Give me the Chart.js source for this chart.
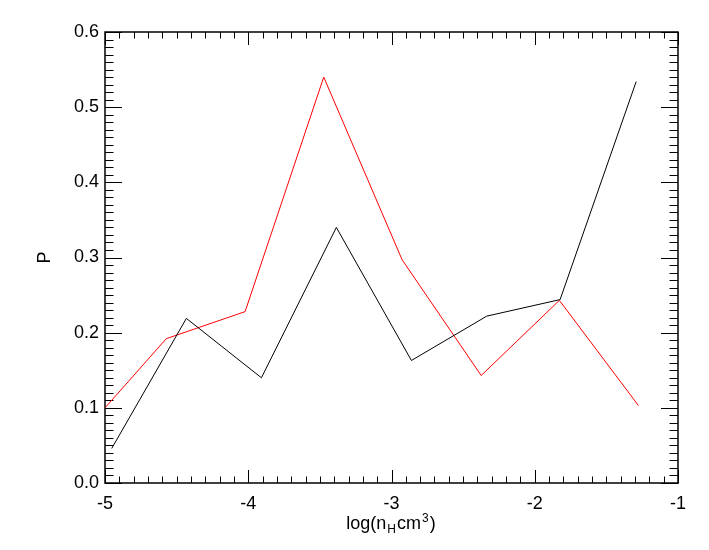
<!DOCTYPE html>
<html>
<head>
<meta charset="utf-8">
<script src="https://cdn.jsdelivr.net/npm/chart.js@4/dist/chart.umd.min.js"></script>
<style>
html, body { margin: 0; padding: 0; background: #fff; }
#wrap { width: 709px; height: 550px; }
</style>
</head>
<body>
<div id="wrap"><canvas id="chart"></canvas></div>
<script>
// values
const blackX = [-4.953, -4.432, -3.908, -3.385, -2.861, -2.335, -1.823, -1.292];
const blackP = [0.046, 0.219, 0.140, 0.340, 0.163, 0.222, 0.244, 0.534];
const redX = [-5.0, -4.572, -4.022, -3.473, -2.926, -2.374, -1.828, -1.276];
const redP = [0.100, 0.192, 0.228, 0.540, 0.297, 0.143, 0.243, 0.103];

const xTicks = [-5, -4, -3, -2, -1];
const xTickLabels = ["-5", "-4", "-3", "-2", "-1"];
const yTicks = [0, 0.1, 0.2, 0.3, 0.4, 0.5, 0.6];
const yTickLabels = ["0.0", "0.1", "0.2", "0.3", "0.4", "0.5", "0.6"];
const xMinorStep = 0.1;
const yMinorStep = 0.01;

const FONT = "'Liberation Sans', Arial, Helvetica, sans-serif";
Chart.defaults.font.family = FONT;
Chart.defaults.color = "#000";

function toPoints(xs, ys) {
    return xs.map((v, i) => ({x: v, y: ys[i]}));
}

// IDL style box: inward ticks on all four sides, minor ticks, subscripted x title
// drawn before the datasets so the curves sit on top like an oplot
const idlFrame = {
    id: "idlFrame",
    beforeDatasetsDraw(chart) {
        const ctx = chart.ctx;
        const a = chart.chartArea;
        const x = chart.scales.x;
        const y = chart.scales.y;
        ctx.save();
        ctx.strokeStyle = "#000";
        ctx.lineWidth = 1;
        ctx.beginPath();
        const nx = Math.round((x.max - x.min) / xMinorStep);
        for (let i = 0; i <= nx; i++) {
            const v = x.min + i * xMinorStep;
            const px = Math.round(x.getPixelForValue(v)) + 0.5;
            const len = i % 10 === 0 ? 13 : 6.5;
            ctx.moveTo(px, a.bottom); ctx.lineTo(px, a.bottom - len);
            ctx.moveTo(px, a.top); ctx.lineTo(px, a.top + len);
        }
        const ny = Math.round((y.max - y.min) / yMinorStep);
        for (let i = 0; i <= ny; i++) {
            const v = y.min + i * yMinorStep;
            const py = Math.round(y.getPixelForValue(v)) + 0.5;
            const len = i % 10 === 0 ? 17 : 8.5;
            ctx.moveTo(a.left, py); ctx.lineTo(a.left + len, py);
            ctx.moveTo(a.right, py); ctx.lineTo(a.right - len, py);
        }
        ctx.stroke();
        ctx.lineWidth = 1.5;
        ctx.strokeRect(a.left, a.top, a.right - a.left, a.bottom - a.top);

        // x title: log(n_H cm^3)
        const parts = [
            {t: "log(n", size: 18, dy: 0},
            {t: "H", size: 12, dy: 4},
            {t: "cm", size: 18, dy: 0},
            {t: "3", size: 12, dy: -7},
            {t: ")", size: 18, dy: 0}
        ];
        let w = 0;
        parts.forEach(p => {
            ctx.font = p.size + "px " + FONT;
            p.w = ctx.measureText(p.t).width + 1;
            w += p.w;
        });
        let cx = (a.left + a.right) / 2 - w / 2;
        const base = 529;
        ctx.fillStyle = "#000";
        ctx.textBaseline = "alphabetic";
        ctx.textAlign = "left";
        parts.forEach(p => {
            ctx.font = p.size + "px " + FONT;
            ctx.fillText(p.t, cx, base + p.dy);
            cx += p.w;
        });
        ctx.restore();
    }
};

new Chart("chart", {
    type: "scatter",
    data: {
        datasets: [{
            label: "black",
            data: toPoints(blackX, blackP),
            showLine: true,
            borderColor: "#000",
            borderWidth: 1,
            pointRadius: 0,
            tension: 0
        }, {
            label: "red",
            data: toPoints(redX, redP),
            showLine: true,
            borderColor: "#ff0000",
            borderWidth: 1,
            pointRadius: 0,
            tension: 0
        }]
    },
    options: {
        responsive: true,
        maintainAspectRatio: false,
        animation: false,
        layout: {padding: {top: 32, right: 31, left: 0, bottom: 0}},
        plugins: {
            legend: {display: false},
            tooltip: {enabled: false}
        },
        scales: {
            x: {
                type: "linear",
                min: -5,
                max: -1,
                border: {display: false},
                grid: {display: false, drawTicks: false},
                afterBuildTicks: s => { s.ticks = xTicks.map(v => ({value: v})); },
                afterFit: s => { s.height = 67; },
                ticks: {
                    padding: 10,
                    maxRotation: 0,
                    font: {size: 18},
                    callback: (v, i) => xTickLabels[i]
                }
            },
            y: {
                type: "linear",
                min: 0,
                max: 0.6,
                border: {display: false},
                grid: {display: false, drawTicks: false},
                afterBuildTicks: s => { s.ticks = yTicks.map(v => ({value: v})); },
                afterFit: s => { s.width = 105; },
                ticks: {
                    padding: 6,
                    font: {size: 18},
                    callback: (v, i) => yTickLabels[i]
                },
                title: {
                    display: true,
                    text: "P",
                    font: {size: 18},
                    padding: {top: 34, bottom: 0}
                }
            }
        }
    },
    plugins: [idlFrame]
});
</script>
</body>
</html>
